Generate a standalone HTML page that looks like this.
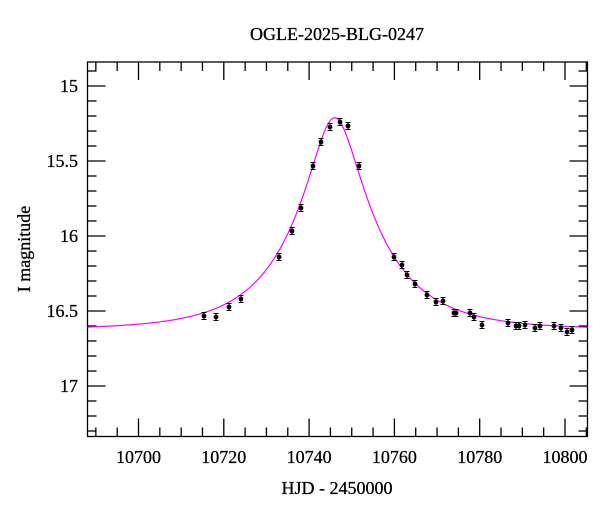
<!DOCTYPE html>
<html><head><meta charset="utf-8"><style>
body{margin:0;background:#fff}
svg text{font-family:"Liberation Serif",serif;fill:#000}
</style></head><body>
<svg id="s" width="600" height="512" xmlns="http://www.w3.org/2000/svg">
<text x="337" y="40" font-size="18" text-anchor="middle" stroke="#000" stroke-width="0.3">OGLE-2025-BLG-0247</text>
<text x="337" y="494" font-size="18" text-anchor="middle" stroke="#000" stroke-width="0.3">HJD - 2450000</text>
<text transform="translate(30,249) rotate(-90)" font-size="18" text-anchor="middle" stroke="#000" stroke-width="0.3">I magnitude</text>
<g id="ax" stroke="#000" stroke-width="1.3" fill="none"></g>
<g id="lb" font-size="18" stroke="#000" stroke-width="0.25"></g>
<path id="cv" fill="none" stroke="#ff00ff" stroke-width="1.2"/>
<g id="pt"></g>
</svg>
<script>
const L=87.5,R=587.5,T=62,B=436.5;
const X=t=>138.5+(t-10700)*4.265, Y=m=>86+(m-15)*150;
const ns="http://www.w3.org/2000/svg";
function el(p,n,a,txt){const e=document.createElementNS(ns,n);for(k in a)e.setAttribute(k,a[k]);if(txt)e.textContent=txt;document.getElementById(p).appendChild(e);}
el("ax","rect",{x:L,y:T,width:R-L,height:B-T});
for(let t=10690;t<=10805;t+=5){const x=X(t),len=t%20==0?18:9;
el("ax","line",{x1:x,y1:B,x2:x,y2:B-len});el("ax","line",{x1:x,y1:T,x2:x,y2:T+len});
if(t%20==0)el("lb","text",{x:x,y:463,"text-anchor":"middle"},String(t));}
for(let i=149;i<=173;i++){const m=i/10,y=Y(m);if(y<T||y>B)continue;const len=i%5==0?18:9;
el("ax","line",{x1:L,y1:y,x2:L+len,y2:y});el("ax","line",{x1:R,y1:y,x2:R-len,y2:y});
if(i%5==0)el("lb","text",{x:78,y:y+6,"text-anchor":"end"},String(m));}
const u0=0.28,tE=19.3,t0=10746,base=16.625;
let d="";for(let x=L;x<=R;x+=1){const t=10700+(x-138.5)/4.265;const u=Math.sqrt(u0*u0+((t-t0)/tE)**2);const A=(u*u+2)/(u*Math.sqrt(u*u+4));const y=Y(base-2.5*Math.log10(A));d+=(d?"L":"M")+x.toFixed(1)+","+y.toFixed(2);}
document.getElementById("cv").setAttribute("d",d);
const P=[[204,316],[216,317],[229,307],[241,299],[279,257],[292,231],[301,208],[313,166],[321,142],[330,127],[340,122],[348,126],[359,166],[394,257],[402,265],[407,275],[415,284],[427,295],[436,302],[443,301],[454,313],[456,313],[470,313],[474,317],[482,325],[508,323],[516,326],[519,326],[525,325],[535,328],[540,326],[554,326],[561,328],[567,332],[572,330]];
P.forEach(([x,y])=>{el("pt","path",{d:`M${x},${y-3.5}V${y+3.5}M${x-2.5},${y-3.5}H${x+2.5}M${x-2.5},${y+3.5}H${x+2.5}`,stroke:"#000","stroke-width":1});el("pt","circle",{cx:x,cy:y,r:2.4,fill:"#000"});});
</script>
</body></html>
